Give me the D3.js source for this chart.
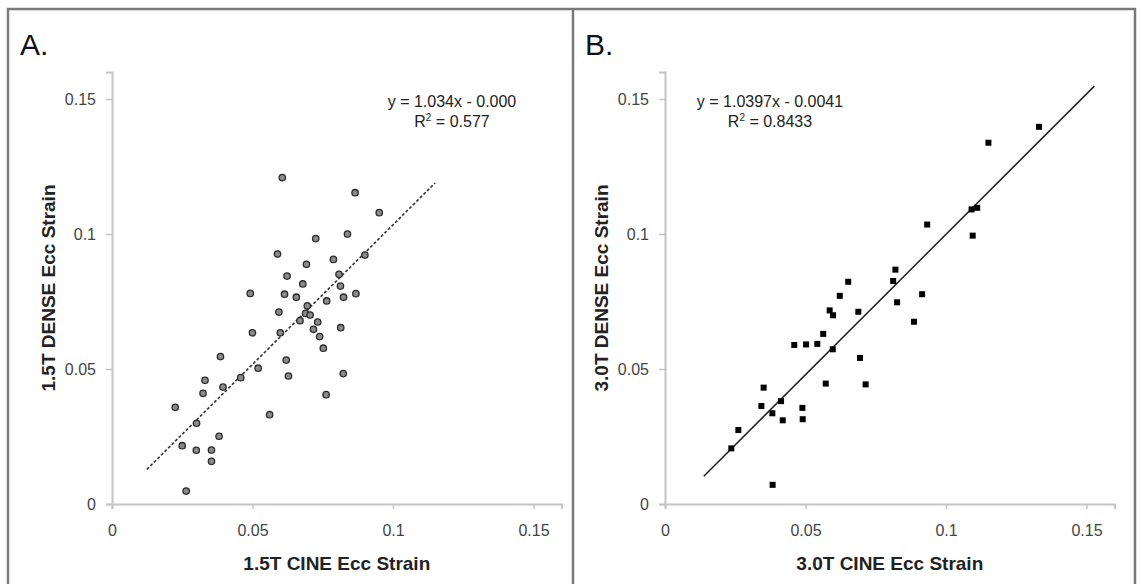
<!DOCTYPE html>
<html>
<head>
  <meta charset="utf-8">
  <title>DENSE vs CINE Ecc Strain</title>
  <script src="https://d3js.org/d3.v7.min.js"></script>
  <style>
    body { margin: 0; background: #fff; }
    text { font-family: Arial, "Liberation Sans", sans-serif; }
    .tick-label { font-size: 16px; fill: #444; }
    .axis-title { font-size: 19px; font-weight: bold; fill: #222; }
    .eq { font-size: 16px; fill: #222; }
    .panel-letter { font-size: 30px; fill: #111; }
  </style>
</head>
<body>
  <svg width="1141" height="584"></svg>
  <script>
    // Panel A: 1.5T (CINE x, DENSE y)
    const cineA = [0.0606, 0.0865, 0.0951, 0.0838, 0.0725, 0.0589, 0.0900, 0.0788, 0.0692, 0.0623,
                   0.0808, 0.0679, 0.0813, 0.0492, 0.0614, 0.0656, 0.0824, 0.0868, 0.0764, 0.0695,
                   0.0594, 0.0689, 0.0705, 0.0669, 0.0732, 0.0500, 0.0599, 0.0717, 0.0814, 0.0739,
                   0.0752, 0.0386, 0.0620, 0.0331, 0.0395, 0.0458, 0.0520, 0.0628, 0.0823, 0.0324,
                   0.0762, 0.0225, 0.0561, 0.0301, 0.0381, 0.0250, 0.0300, 0.0354, 0.0354, 0.0264];
    const denseA = [0.1209, 0.1153, 0.1079, 0.1000, 0.0983, 0.0926, 0.0922, 0.0906, 0.0888, 0.0844,
                    0.0851, 0.0815, 0.0807, 0.0780, 0.0777, 0.0766, 0.0766, 0.0779, 0.0752, 0.0734,
                    0.0711, 0.0706, 0.0700, 0.0679, 0.0674, 0.0634, 0.0634, 0.0647, 0.0653, 0.0620,
                    0.0577, 0.0546, 0.0533, 0.0458, 0.0433, 0.0468, 0.0503, 0.0474, 0.0483, 0.0410,
                    0.0405, 0.0358, 0.0331, 0.0299, 0.0251, 0.0216, 0.0199, 0.0200, 0.0158, 0.0048];

    // Panel B: 3.0T (CINE x, DENSE y)
    const cineB = [0.1331, 0.1151, 0.1091, 0.1111, 0.0933, 0.1095, 0.0820, 0.0812, 0.0652, 0.0622,
                   0.0915, 0.0826, 0.0586, 0.0598, 0.0688, 0.0886, 0.0563, 0.0460, 0.0502, 0.0542,
                   0.0597, 0.0694, 0.0572, 0.0714, 0.0351, 0.0343, 0.0413, 0.0382, 0.0419, 0.0489,
                   0.0490, 0.0261, 0.0236, 0.0383];
    const denseB = [0.1397, 0.1338, 0.1091, 0.1097, 0.1035, 0.0994, 0.0868, 0.0826, 0.0823, 0.0771,
                    0.0777, 0.0747, 0.0717, 0.0699, 0.0712, 0.0675, 0.0630, 0.0589, 0.0591, 0.0593,
                    0.0573, 0.0541, 0.0446, 0.0443, 0.0431, 0.0363, 0.0381, 0.0336, 0.0310, 0.0356,
                    0.0314, 0.0274, 0.0206, 0.0071];

    // linear fits as printed on the chart, and the x span Excel drew them over
    const fitA = { slope: 1.034, intercept: -0.000, x0: 0.0124, x1: 0.115 };
    const fitB = { slope: 1.0397, intercept: -0.0041, x0: 0.0138, x1: 0.1528 };

    const tickValues = [0, 0.05, 0.1, 0.15];
    const tickLabels = ["0", "0.05", "0.1", "0.15"];

    const svg = d3.select("svg");

    // outer frame + divider between panels
    svg.append("rect")
      .attr("x", 8).attr("y", 9)
      .attr("width", 1127).attr("height", 600)
      .attr("fill", "none")
      .attr("stroke", "#7a7a7a")
      .attr("stroke-width", 2.5);
    svg.append("line")
      .attr("x1", 573).attr("x2", 573)
      .attr("y1", 9).attr("y2", 584)
      .attr("stroke", "#7a7a7a")
      .attr("stroke-width", 2.5);

    function drawPanel(opts) {
      const x = d3.scaleLinear().domain([0, 0.16]).range([opts.left, opts.left + 449.6]);
      const y = d3.scaleLinear().domain([0, 0.16]).range([504, 72]);
      const g = svg.append("g");

      // axes (Excel style: light grey line, small outside ticks)
      const xAxis = d3.axisBottom(x).tickValues(tickValues)
        .tickFormat((d, i) => tickLabels[i]).tickSize(5).tickPadding(16);
      const yAxis = d3.axisLeft(y).tickValues(tickValues)
        .tickFormat((d, i) => tickLabels[i]).tickSize(6).tickPadding(10);

      const gx = g.append("g").attr("transform", `translate(0,${y(0)})`).call(xAxis);
      const gy = g.append("g").attr("transform", `translate(${x(0)},0)`).call(yAxis);
      [gx, gy].forEach(a => {
        a.select(".domain").attr("stroke", "#c4c4c4").attr("stroke-width", 2);
        a.selectAll(".tick line").attr("stroke", "#c4c4c4").attr("stroke-width", 1.5);
        a.selectAll(".tick text").attr("class", "tick-label").attr("font-family", null).attr("font-size", null);
      });

      // axis titles
      g.append("text")
        .attr("class", "axis-title")
        .attr("x", (x(0) + x(0.16)) / 2)
        .attr("y", 570)
        .attr("text-anchor", "middle")
        .text(opts.xTitle);
      g.append("text")
        .attr("class", "axis-title")
        .attr("transform", `translate(${opts.left - 57},${(y(0) + y(0.16)) / 2}) rotate(-90)`)
        .attr("text-anchor", "middle")
        .text(opts.yTitle);

      // trend line
      g.append("line")
        .attr("x1", x(opts.fit.x0))
        .attr("y1", y(opts.fit.slope * opts.fit.x0 + opts.fit.intercept))
        .attr("x2", x(opts.fit.x1))
        .attr("y2", y(opts.fit.slope * opts.fit.x1 + opts.fit.intercept))
        .attr("stroke", opts.dashed ? "#333" : "#222")
        .attr("stroke-width", opts.dashed ? 1.6 : 1.5)
        .attr("stroke-dasharray", opts.dashed ? "3,2" : null);

      // points
      const pts = opts.xs.map((v, i) => ({ x: v, y: opts.ys[i] }));
      if (opts.marker === "circle") {
        g.selectAll("circle.pt")
          .data(pts)
          .enter()
          .append("circle")
          .attr("class", "pt")
          .attr("cx", d => x(d.x))
          .attr("cy", d => y(d.y))
          .attr("r", 3.2)
          .attr("fill", "#8a8a8a")
          .attr("stroke", "#2a2a2a")
          .attr("stroke-width", 1.3);
      } else {
        g.selectAll("rect.pt")
          .data(pts)
          .enter()
          .append("rect")
          .attr("class", "pt")
          .attr("x", d => x(d.x) - 3)
          .attr("y", d => y(d.y) - 3)
          .attr("width", 6)
          .attr("height", 6)
          .attr("fill", "#000");
      }

      // equation label
      g.append("text").attr("class", "eq")
        .attr("x", opts.eqX).attr("y", 107)
        .attr("text-anchor", "middle")
        .text(opts.eq);
      const r2 = g.append("text").attr("class", "eq")
        .attr("x", opts.eqX).attr("y", 127)
        .attr("text-anchor", "middle");
      r2.append("tspan").text("R");
      r2.append("tspan").attr("dy", -6).attr("font-size", 10).text("2");
      r2.append("tspan").attr("dy", 6).text(" = " + opts.r2);

      // panel letter
      svg.append("text")
        .attr("class", "panel-letter")
        .attr("x", opts.letterX)
        .attr("y", 55)
        .text(opts.letter);
    }

    drawPanel({
      left: 112, xs: cineA, ys: denseA, fit: fitA, dashed: true, marker: "circle",
      xTitle: "1.5T CINE Ecc Strain", yTitle: "1.5T DENSE Ecc Strain",
      eq: "y = 1.034x - 0.000", r2: "0.577", eqX: 452, letter: "A.", letterX: 20
    });
    drawPanel({
      left: 665, xs: cineB, ys: denseB, fit: fitB, dashed: false, marker: "square",
      xTitle: "3.0T CINE Ecc Strain", yTitle: "3.0T DENSE Ecc Strain",
      eq: "y = 1.0397x - 0.0041", r2: "0.8433", eqX: 770, letter: "B.", letterX: 585
    });
  </script>
</body>
</html>
